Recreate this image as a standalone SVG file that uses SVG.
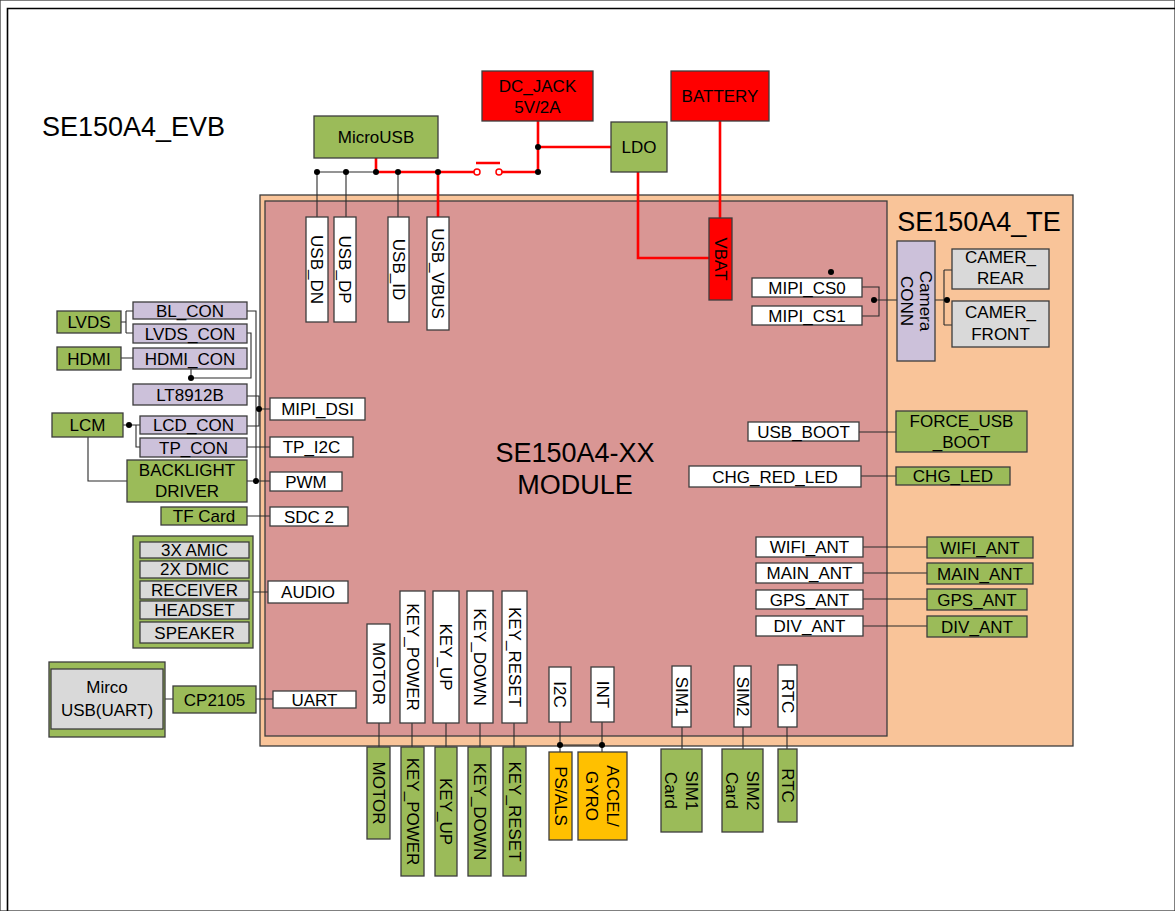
<svg xmlns="http://www.w3.org/2000/svg" width="1175" height="911" viewBox="0 0 1175 911">
<style>
rect{stroke:#3c3c3c;stroke-width:1.3}
.w{fill:#fff}.g{fill:#9bbb59}.l{fill:#ccc1da}.gr{fill:#d9d9d9}.r{fill:#ff0000}.y{fill:#ffc000}
text{font-family:"Liberation Sans",Arial,sans-serif;font-size:17px;fill:#000;text-anchor:middle}
.big{font-size:27px}
.c{stroke:#2a2a2a;stroke-width:1.1;fill:none}
.rc{stroke:#ff0000;stroke-width:2.6;fill:none}
.dot{fill:#000}
</style>
<rect x="0" y="0" width="1175" height="911" fill="#fff" stroke="none"/>
<path d="M7.5,911 V8.5 H1175" fill="none" stroke="#000" stroke-width="1.6"/>
<g id="te-board"><rect x="260" y="195" width="813" height="551" fill="#f9c499"/><text class="big" x="979" y="231">SE150A4_TE</text></g>
<g id="module"><rect x="265" y="201" width="622" height="535" fill="#d99694"/><text class="big" x="575" y="462">SE150A4-XX</text><text class="big" x="575" y="494">MODULE</text></g>
<text id="evb-title" class="big" x="42" y="136" style="text-anchor:start">SE150A4_EVB</text>

<g id="connectors">
<path class="c" d="M317,172 H376 M317,172 V217 M346,172 V217 M398,172 V217"/>
<path class="rc" d="M376,158 V172 H474.5 M501.5,172 H538 M538,121 V172 M538,147 H611 M438,172 V217 M638,172 V258 H709 M720,121 V218 M476,163 H500"/>
<circle cx="477" cy="172" r="3" fill="#fff" stroke="#ff0000" stroke-width="1.5"/>
<circle cx="499" cy="172" r="3" fill="#fff" stroke="#ff0000" stroke-width="1.5"/>
<path class="c" d="M862,287 H879 V316 H862 M874,300 H897 M935,300 H947 M944,270 V325 M944,270 H952 M944,325 H952"/>
<path class="c" d="M859,432 H896 M861,476 H896 M863,547 H927 M863,573 H927 M863,599 H927 M863,626 H927"/>
<path class="c" d="M121,322 H126 M126,311 V333 M126,311 H133 M126,333 H133 M121,358 H133 M247,311 H256 V481 M247,333 H251 V378 H191 M191,369 V378 M247,396 H259 V426 H247 M259,409 H270 M247,447 H270 M247,481 H270 M247,516 H270 M123,425 H140 M136,425 V447 H140 M88,437 V481 H127 M249,592 H268 M165,699 H173 M256,699 H273"/>
<path class="c" d="M379,723 V747 M412,723 V747 M446,723 V747 M480,723 V747 M514,723 V747 M560,722 V752 M602,722 V752 M560,745 H602 M682,727 V749 M743,727 V749 M787,727 V749"/>
<g class="dot">
<circle cx="317" cy="172" r="3"/><circle cx="346" cy="172" r="3"/><circle cx="376" cy="172" r="3"/><circle cx="398" cy="172" r="3"/><circle cx="438" cy="172" r="3"/><circle cx="538" cy="172" r="3"/><circle cx="538" cy="147" r="3"/>
<circle cx="831" cy="272" r="3"/><circle cx="874" cy="300" r="3"/><circle cx="947" cy="300" r="3"/>
<circle cx="191" cy="378" r="3"/><circle cx="259" cy="409" r="3"/><circle cx="256" cy="481" r="3"/><circle cx="129" cy="425" r="3"/>
<circle cx="560" cy="745" r="3"/><circle cx="602" cy="745" r="3"/>
</g>
</g>

<!-- top -->
<g id="microusb"><rect class="g" x="314" y="116" width="124" height="42"/><text x="376" y="143">MicroUSB</text></g>
<g id="dc-jack"><rect class="r" x="482" y="71" width="111" height="50"/><text x="537.5" y="92">DC_JACK</text><text x="537.5" y="113">5V/2A</text></g>
<g id="battery"><rect class="r" x="671" y="71" width="98" height="50"/><text x="720" y="102">BATTERY</text></g>
<g id="ldo"><rect class="g" x="611" y="122" width="56" height="50"/><text x="639" y="153">LDO</text></g>
<g id="vbat"><rect class="r" x="709" y="218" width="23" height="82"/><text transform="translate(720.5,259) rotate(90)" y="6">VBAT</text></g>
<g id="usb-dn"><rect class="w" x="306" y="217" width="22" height="105"/><text transform="translate(317,269.5) rotate(90)" y="6">USB_DN</text></g>
<g id="usb-dp"><rect class="w" x="334" y="217" width="22" height="105"/><text transform="translate(345,269.5) rotate(90)" y="6">USB_DP</text></g>
<g id="usb-id"><rect class="w" x="388" y="217" width="21" height="105"/><text transform="translate(398.5,269.5) rotate(90)" y="6">USB_ID</text></g>
<g id="usb-vbus"><rect class="w" x="427" y="217" width="22" height="113"/><text transform="translate(438,273.5) rotate(90)" y="6">USB_VBUS</text></g>

<!-- right -->
<g id="mipi-cs0"><rect class="w" x="752" y="278" width="110" height="19"/><text x="807" y="293.5">MIPI_CS0</text></g>
<g id="mipi-cs1"><rect class="w" x="752" y="306" width="110" height="19"/><text x="807" y="321.5">MIPI_CS1</text></g>
<g id="camera-conn"><rect class="l" x="897" y="241" width="38" height="120"/><text transform="translate(916,301) rotate(90)" y="-3.5">Camera</text><text transform="translate(916,301) rotate(90)" y="15">CONN</text></g>
<g id="camer-rear"><rect class="gr" x="952" y="249" width="97" height="40"/><text x="1000.5" y="263">CAMER_</text><text x="1000.5" y="284">REAR</text></g>
<g id="camer-front"><rect class="gr" x="952" y="301" width="97" height="46"/><text x="1000.5" y="318">CAMER_</text><text x="1000.5" y="340">FRONT</text></g>
<g id="usb-boot"><rect class="w" x="748" y="422" width="111" height="19"/><text x="803.5" y="437.5">USB_BOOT</text></g>
<g id="force-usb-boot"><rect class="g" x="896" y="411" width="131" height="41"/><text x="961.5" y="427">FORCE_USB</text><text x="961.5" y="448">_BOOT</text></g>
<g id="chg-red-led"><rect class="w" x="689" y="466" width="172" height="21"/><text x="775" y="482.5">CHG_RED_LED</text></g>
<g id="chg-led"><rect class="g" x="896" y="467" width="114" height="18"/><text x="953" y="482">CHG_LED</text></g>
<g id="wifi-ant-pin"><rect class="w" x="756" y="537" width="107" height="20"/><text x="809.5" y="553">WIFI_ANT</text></g>
<g id="main-ant-pin"><rect class="w" x="756" y="563" width="107" height="20"/><text x="809.5" y="579">MAIN_ANT</text></g>
<g id="gps-ant-pin"><rect class="w" x="756" y="590" width="107" height="19"/><text x="809.5" y="605.5">GPS_ANT</text></g>
<g id="div-ant-pin"><rect class="w" x="756" y="616" width="107" height="20"/><text x="809.5" y="632">DIV_ANT</text></g>
<g id="wifi-ant"><rect class="g" x="927" y="537" width="106" height="21"/><text x="980" y="553.5">WIFI_ANT</text></g>
<g id="main-ant"><rect class="g" x="927" y="563" width="106" height="21"/><text x="980" y="579.5">MAIN_ANT</text></g>
<g id="gps-ant"><rect class="g" x="927" y="589" width="100" height="21"/><text x="977" y="605.5">GPS_ANT</text></g>
<g id="div-ant"><rect class="g" x="927" y="616" width="100" height="21"/><text x="977" y="632.5">DIV_ANT</text></g>

<!-- left -->
<g id="bl-con"><rect class="l" x="133" y="302" width="114" height="17"/><text x="190" y="316.5">BL_CON</text></g>
<g id="lvds-con"><rect class="l" x="133" y="324" width="114" height="19"/><text x="190" y="339.5">LVDS_CON</text></g>
<g id="hdmi-con"><rect class="l" x="133" y="348" width="114" height="21"/><text x="190" y="364.5">HDMI_CON</text></g>
<g id="lt8912b"><rect class="l" x="133" y="384" width="114" height="21"/><text x="190" y="400.5">LT8912B</text></g>
<g id="lcd-con"><rect class="l" x="140" y="416" width="107" height="18"/><text x="193.5" y="431">LCD_CON</text></g>
<g id="tp-con"><rect class="l" x="140" y="438" width="107" height="19"/><text x="193.5" y="453.5">TP_CON</text></g>
<g id="lvds"><rect class="g" x="57" y="311" width="64" height="22"/><text x="89" y="328">LVDS</text></g>
<g id="hdmi"><rect class="g" x="57" y="347" width="64" height="23"/><text x="89" y="364.5">HDMI</text></g>
<g id="lcm"><rect class="g" x="52" y="413" width="71" height="24"/><text x="87.5" y="431">LCM</text></g>
<g id="backlight-driver"><rect class="g" x="127" y="460" width="120" height="42"/><text x="187" y="476">BACKLIGHT</text><text x="187" y="497">DRIVER</text></g>
<g id="tf-card"><rect class="g" x="161" y="507" width="86" height="18"/><text x="204" y="522">TF Card</text></g>
<g id="mipi-dsi"><rect class="w" x="270" y="398" width="95" height="22"/><text x="317.5" y="415">MIPI_DSI</text></g>
<g id="tp-i2c"><rect class="w" x="270" y="437" width="83" height="20"/><text x="311.5" y="453">TP_I2C</text></g>
<g id="pwm"><rect class="w" x="270" y="472" width="72" height="19"/><text x="306" y="487.5">PWM</text></g>
<g id="sdc2"><rect class="w" x="270" y="507" width="78" height="19"/><text x="309" y="522.5">SDC 2</text></g>
<g id="audio-devices"><rect class="g" x="133" y="536" width="120" height="112"/>
<rect class="gr" x="140" y="542" width="109" height="16"/><text x="194.5" y="556">3X AMIC</text>
<rect class="gr" x="140" y="561" width="109" height="17"/><text x="194.5" y="575">2X DMIC</text>
<rect class="gr" x="140" y="581" width="109" height="18"/><text x="194.5" y="596">RECEIVER</text>
<rect class="gr" x="140" y="601" width="109" height="18"/><text x="194.5" y="616">HEADSET</text>
<rect class="gr" x="140" y="622" width="109" height="21"/><text x="194.5" y="638.5">SPEAKER</text></g>
<g id="audio"><rect class="w" x="268" y="581" width="80" height="22"/><text x="308" y="598">AUDIO</text></g>
<g id="mirco-usb"><rect class="g" x="49" y="662" width="116" height="75"/><rect class="gr" x="51" y="669" width="112" height="60"/><text x="107" y="693">Mirco</text><text x="107" y="716">USB(UART)</text></g>
<g id="cp2105"><rect class="g" x="173" y="686" width="83" height="27"/><text x="214.5" y="705.5">CP2105</text></g>
<g id="uart"><rect class="w" x="273" y="691" width="83" height="17"/><text x="314.5" y="705.5">UART</text></g>

<!-- bottom pins -->
<g id="motor-pin"><rect class="w" x="367" y="624" width="23" height="99"/><text transform="translate(378.5,673.5) rotate(90)" y="6">MOTOR</text></g>
<g id="key-power-pin"><rect class="w" x="400" y="591" width="25" height="132"/><text transform="translate(412.5,657) rotate(90)" y="6">KEY_POWER</text></g>
<g id="key-up-pin"><rect class="w" x="433" y="591" width="26" height="132"/><text transform="translate(446,657) rotate(90)" y="6">KEY_UP</text></g>
<g id="key-down-pin"><rect class="w" x="467" y="591" width="26" height="132"/><text transform="translate(480,657) rotate(90)" y="6">KEY_DOWN</text></g>
<g id="key-reset-pin"><rect class="w" x="502" y="591" width="25" height="132"/><text transform="translate(514.5,657) rotate(90)" y="6">KEY_RESET</text></g>
<g id="i2c-pin"><rect class="w" x="549" y="667" width="22" height="55"/><text transform="translate(560,694.5) rotate(90)" y="6">I2C</text></g>
<g id="int-pin"><rect class="w" x="591" y="667" width="23" height="55"/><text transform="translate(602.5,694.5) rotate(90)" y="6">INT</text></g>
<g id="sim1-pin"><rect class="w" x="672" y="666" width="19" height="61"/><text transform="translate(681.5,696.5) rotate(90)" y="6">SIM1</text></g>
<g id="sim2-pin"><rect class="w" x="734" y="666" width="17" height="61"/><text transform="translate(742.5,696.5) rotate(90)" y="6">SIM2</text></g>
<g id="rtc-pin"><rect class="w" x="778" y="665" width="19" height="62"/><text transform="translate(787.5,696) rotate(90)" y="6">RTC</text></g>

<!-- bottom devices -->
<g id="motor"><rect class="g" x="367" y="747" width="23" height="92"/><text transform="translate(378.5,793) rotate(90)" y="6">MOTOR</text></g>
<g id="key-power"><rect class="g" x="401" y="747" width="23" height="129"/><text transform="translate(412.5,811.5) rotate(90)" y="6">KEY_POWER</text></g>
<g id="key-up"><rect class="g" x="435" y="747" width="22" height="129"/><text transform="translate(446,811.5) rotate(90)" y="6">KEY_UP</text></g>
<g id="key-down"><rect class="g" x="468" y="747" width="23" height="129"/><text transform="translate(479.5,811.5) rotate(90)" y="6">KEY_DOWN</text></g>
<g id="key-reset"><rect class="g" x="503" y="747" width="23" height="129"/><text transform="translate(514.5,811.5) rotate(90)" y="6">KEY_RESET</text></g>
<g id="ps-als"><rect class="y" x="549" y="752" width="23" height="88"/><text transform="translate(560.5,796) rotate(90)" y="6">PS/ALS</text></g>
<g id="accel-gyro"><rect class="y" x="578" y="752" width="49" height="88"/><text transform="translate(602.5,796) rotate(90)" y="-4.5">ACCEL/</text><text transform="translate(602.5,796) rotate(90)" y="16.5">GYRO</text></g>
<g id="sim1-card"><rect class="g" x="661" y="749" width="41" height="83"/><text transform="translate(681.5,790.5) rotate(90)" y="-4.5">SIM1</text><text transform="translate(681.5,790.5) rotate(90)" y="16.5">Card</text></g>
<g id="sim2-card"><rect class="g" x="722" y="749" width="41" height="83"/><text transform="translate(742.5,790.5) rotate(90)" y="-4.5">SIM2</text><text transform="translate(742.5,790.5) rotate(90)" y="16.5">Card</text></g>
<g id="rtc"><rect class="g" x="778" y="749" width="19" height="73"/><text transform="translate(787.5,785.5) rotate(90)" y="6">RTC</text></g>
</svg>
